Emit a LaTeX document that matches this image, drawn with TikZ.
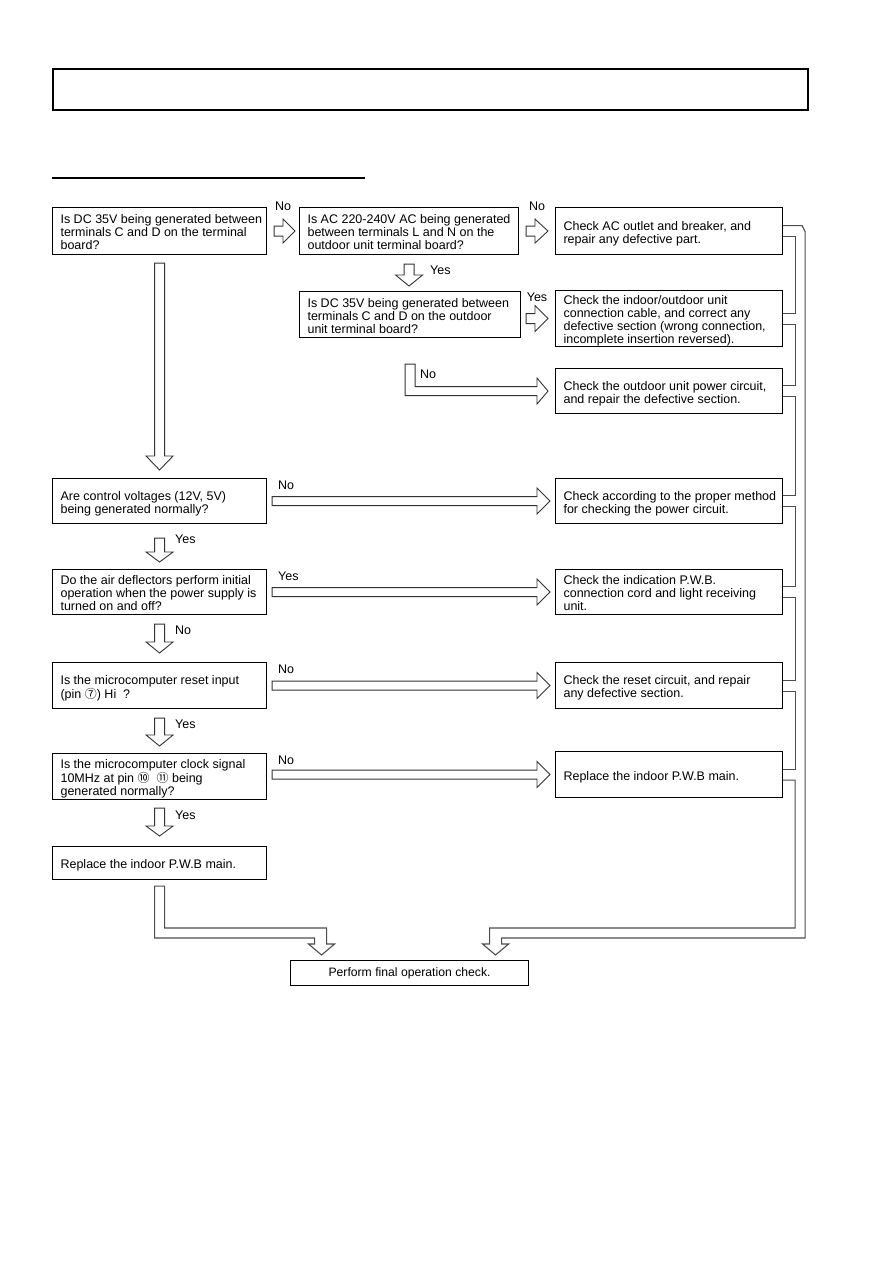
\documentclass[tikz,border=0pt]{standalone}
\usepackage{fontspec}
\setmainfont{Liberation Sans}
\newfontfamily\cjkfont{Noto Sans CJK SC}
\usetikzlibrary{calc}
\newcommand{\boxtxt}[2]{\raisebox{-3pt}[\height][\depth]{\makebox[#1pt][l]{\begin{tabular}{@{}l@{}}#2\end{tabular}}}}
\newcommand{\cnum}[1]{{\cjkfont\fontsize{12}{13}\selectfont #1}}
% hollow arrow to the right: from, to, gap1, gap2, headlen, shafthalf, headhalf
\newcommand{\hollowright}[7]{%
  \draw[harrow] let \p1=(#1.east), \p2=(#2.west) in
   ({\x1+#3pt},{\y2+#6pt}) -- ({\x2-#4pt-#5pt},{\y2+#6pt}) -- ({\x2-#4pt-#5pt},{\y2+#7pt})
   -- ({\x2-#4pt},{\y2}) -- ({\x2-#4pt-#5pt},{\y2-#7pt}) -- ({\x2-#4pt-#5pt},{\y2-#6pt})
   -- ({\x1+#3pt},{\y2-#6pt}) -- cycle;}
% hollow arrow downwards: from, to, gap1, gap2, headlen, shafthalf, headhalf
\newcommand{\hollowdown}[7]{%
  \draw[harrow] let \p1=(#1.south), \p2=(#2.north) in
   ({\x1-#6pt},{\y1-#3pt}) -- ({\x1-#6pt},{\y2+#4pt+#5pt}) -- ({\x1-#7pt},{\y2+#4pt+#5pt})
   -- ({\x1},{\y2+#4pt}) -- ({\x1+#7pt},{\y2+#4pt+#5pt}) -- ({\x1+#6pt},{\y2+#4pt+#5pt})
   -- ({\x1+#6pt},{\y1-#3pt}) -- cycle;}
\tikzset{
  fbox/.style={draw=black, line width=1.1pt, anchor=north west, inner xsep=8pt, inner ysep=0pt,
               font=\fontsize{12.5}{13}\selectfont},
  lbl/.style={font=\fontsize{12.5}{13}\selectfont, inner sep=0pt},
  harrow/.style={draw=black!80, line width=0.9pt, fill=white, line join=miter},
  chan/.style={draw=black!70, line width=1.1pt, line join=miter}
}
\begin{document}
\begin{tikzpicture}[x=1pt,y=-1pt]
\useasboundingbox (0,0) rectangle (893,1263);

% header
\node[draw, line width=1.6pt, anchor=north west, minimum width=755pt, minimum height=41pt, inner sep=0pt] (title) at (52,68) {};
\coordinate (ul1) at (52,178);
\coordinate (ul2) at (365,178);
\draw[line width=1.3pt] (ul1) -- (ul2);

% left column
\node[fbox, minimum height=47pt] (L1) at (52,207) {\boxtxt{198}{Is DC 35V being generated between\\terminals C and D on the terminal\\board?}};
\node[fbox, minimum height=45pt] (L2) at (52,478) {\boxtxt{198}{Are control voltages (12V, 5V)\\being generated normally?}};
\node[fbox, minimum height=45pt] (L3) at (52,569) {\boxtxt{198}{Do the air deflectors perform initial\\operation when the power supply is\\turned on and off?}};
\node[fbox, minimum height=46pt] (L4) at (52,662) {\boxtxt{198}{Is the microcomputer reset input\\(pin \cnum{⑦}) Hi\ \ ?}};
\node[fbox, minimum height=46pt] (L5) at (52,753) {\boxtxt{198}{Is the microcomputer clock signal\\10MHz at pin \cnum{⑩}\ \ \cnum{⑪} being\\generated normally?}};
\node[fbox, minimum height=33pt] (L6) at (52,846) {\boxtxt{198}{Replace the indoor P.W.B main.}};

% middle column
\node[fbox, minimum height=47pt] (M1) at (299,207) {\boxtxt{203}{Is AC 220-240V AC being generated\\between terminals L and N on the\\outdoor unit terminal board?}};
\node[fbox, minimum height=46pt] (M2) at (299,291) {\boxtxt{205}{Is DC 35V being generated between\\terminals C and D on the outdoor\\unit terminal board?}};

% right column
\node[fbox, minimum height=47pt] (R1) at (555,207) {\boxtxt{211}{Check AC outlet and breaker, and\\repair any defective part.}};
\node[fbox, minimum height=56pt] (R2) at (555,290) {\boxtxt{211}{Check the indoor/outdoor unit\\connection cable, and correct any\\defective section (wrong connection,\\incomplete insertion reversed).}};
\node[fbox, minimum height=45pt] (R3) at (555,368) {\boxtxt{211}{Check the outdoor unit power circuit,\\and repair the defective section.}};
\node[fbox, minimum height=45pt] (R4) at (555,478) {\boxtxt{211}{Check according to the proper method\\for checking the power circuit.}};
\node[fbox, minimum height=45pt] (R5) at (555,569) {\boxtxt{211}{Check the indication P.W.B.\\connection cord and light receiving\\unit.}};
\node[fbox, minimum height=46pt] (R6) at (555,662) {\boxtxt{211}{Check the reset circuit, and repair\\any defective section.}};
\node[fbox, minimum height=46pt] (R7) at (555,751) {\boxtxt{211}{Replace the indoor P.W.B main.}};

% final
\node[fbox, minimum width=238pt, minimum height=25pt, align=center, font=\fontsize{12.2}{13}\selectfont] (F) at (290,960) {Perform final operation check.};

% short right arrows
\hollowright{L1}{M1}{7}{4}{12}{5}{12}
\hollowright{M1}{R1}{7}{7}{13}{5}{12}
\hollowright{M2}{R2}{5}{7}{13}{5}{13}
% long right arrows
\hollowright{L2}{R4}{5}{5}{13}{4.5}{13}
\hollowright{L3}{R5}{5}{5}{13}{4.5}{13}
\hollowright{L4}{R6}{5}{5}{13}{4.5}{13}
\hollowright{L5}{R7}{5}{5}{13}{4.5}{13}
% down arrows
\hollowdown{L1}{L2}{8}{8}{14}{5}{13.5}
\hollowdown{L2}{L3}{14}{7}{10}{5}{13.5}
\hollowdown{L3}{L4}{9}{9}{11}{5}{13.5}
\hollowdown{L4}{L5}{9}{7}{11}{5}{13.5}
\hollowdown{L5}{L6}{8}{10}{10}{5}{13.5}
\hollowdown{M1}{M2}{9}{5}{11}{5}{13.5}

% L-shaped No arrow to R3
\draw[harrow] let \p1=(M2.south), \p2=(R3.west) in
  ({\x1-5pt},{\y1-26pt}) -- ({\x1-5pt},{\y2-4.5pt}) -- ({\x2-18pt},{\y2-4.5pt}) -- ({\x2-18pt},{\y2-13pt})
  -- ({\x2-7pt},{\y2}) -- ({\x2-18pt},{\y2+13pt}) -- ({\x2-18pt},{\y2+4.5pt}) -- ({\x1+5pt},{\y2+4.5pt})
  -- ({\x1+5pt},{\y1-26pt}) -- cycle;

% right collecting channel
\draw[chan] let \p1=(R1.east), \p2=(R2.east) in ({\x1},{\y1-5.5pt}) -- ({\x1+12pt},{\y1-5.5pt}) -- ({\x1+12pt},{\y2+5.5pt}) -- ({\x2},{\y2+5.5pt});
\draw[chan] let \p1=(R2.east), \p2=(R3.east) in ({\x1},{\y1-5.5pt}) -- ({\x1+12pt},{\y1-5.5pt}) -- ({\x1+12pt},{\y2+5.5pt}) -- ({\x2},{\y2+5.5pt});
\draw[chan] let \p1=(R3.east), \p2=(R4.east) in ({\x1},{\y1-5.5pt}) -- ({\x1+12pt},{\y1-5.5pt}) -- ({\x1+12pt},{\y2+5.5pt}) -- ({\x2},{\y2+5.5pt});
\draw[chan] let \p1=(R4.east), \p2=(R5.east) in ({\x1},{\y1-5.5pt}) -- ({\x1+12pt},{\y1-5.5pt}) -- ({\x1+12pt},{\y2+5.5pt}) -- ({\x2},{\y2+5.5pt});
\draw[chan] let \p1=(R5.east), \p2=(R6.east) in ({\x1},{\y1-5.5pt}) -- ({\x1+12pt},{\y1-5.5pt}) -- ({\x1+12pt},{\y2+5.5pt}) -- ({\x2},{\y2+5.5pt});
\draw[chan] let \p1=(R6.east), \p2=(R7.east) in ({\x1},{\y1-5.5pt}) -- ({\x1+12pt},{\y1-5.5pt}) -- ({\x1+12pt},{\y2+5.5pt}) -- ({\x2},{\y2+5.5pt});
\draw[chan] let \p1=(R1.east), \p2=(R7.east), \p3=(F.north) in
  ({\x1},{\y1+5.5pt}) -- ({\x1+19pt},{\y1+5.5pt}) -- ({\x1+22pt},{\y1-0.5pt}) -- ({\x1+22pt},{\y3+22pt})
  -- ({\x3+92pt},{\y3+22pt}) -- ({\x3+92pt},{\y3+16pt}) -- ({\x3+99pt},{\y3+16pt}) -- ({\x3+86pt},{\y3+5pt})
  -- ({\x3+73pt},{\y3+16pt}) -- ({\x3+80pt},{\y3+16pt}) -- ({\x3+80pt},{\y3+32pt}) -- ({\x1+12pt},{\y3+32pt})
  -- ({\x1+12pt},{\y2-5.5pt}) -- ({\x2},{\y2-5.5pt});
% left collecting channel
\draw[chan] let \p1=(L6.south), \p3=(F.north) in
  ({\x1-5pt},{\y1-6pt}) -- ({\x1-5pt},{\y3+22pt}) -- ({\x3-95pt},{\y3+22pt}) -- ({\x3-95pt},{\y3+16pt})
  -- ({\x3-101pt},{\y3+16pt}) -- ({\x3-88pt},{\y3+5pt}) -- ({\x3-75pt},{\y3+16pt}) -- ({\x3-83pt},{\y3+16pt})
  -- ({\x3-83pt},{\y3+32pt}) -- ({\x1+5pt},{\y3+32pt}) -- ({\x1+5pt},{\y1-6pt}) -- cycle;

% labels
\node[lbl] (n1) at (283,206) {No};
\node[lbl] (n2) at (537,206) {No};
\node[lbl] (y1) at (537,297) {Yes};
\node[lbl, anchor=west] (y2) at (430,270) {Yes};
\node[lbl, anchor=west] (n3) at (420,374) {No};
\node[lbl, anchor=west] (y3) at (175,539) {Yes};
\node[lbl, anchor=west] (n4) at (175,630) {No};
\node[lbl, anchor=west] (y4) at (175,724) {Yes};
\node[lbl, anchor=west] (y5) at (175,815) {Yes};
\node[lbl, anchor=west] (n5) at (278,485) {No};
\node[lbl, anchor=west] (y6) at (278,576) {Yes};
\node[lbl, anchor=west] (n6) at (278,669) {No};
\node[lbl, anchor=west] (n7) at (278,760) {No};
\end{tikzpicture}
\end{document}
